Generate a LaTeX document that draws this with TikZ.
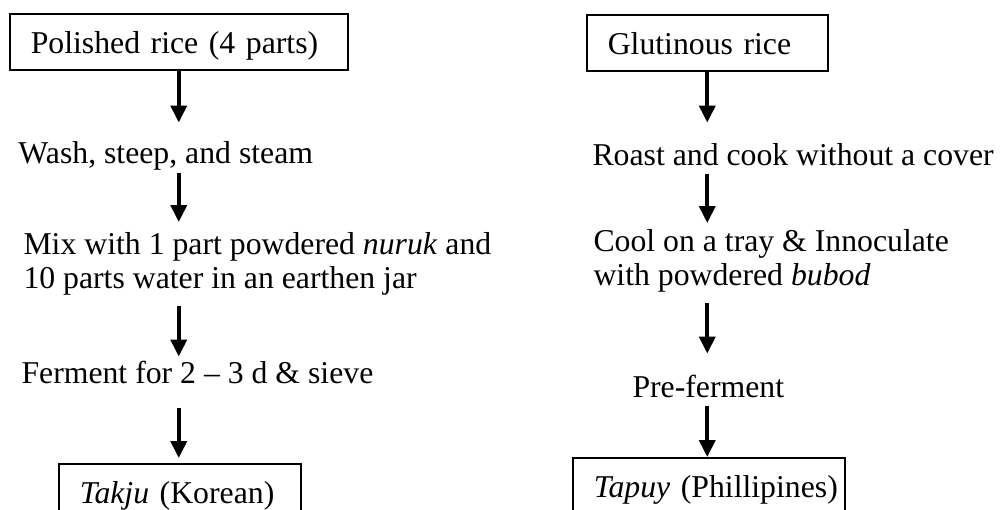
\documentclass[tikz,border=0pt]{standalone}
\usepackage{fontspec}
\setmainfont{Liberation Serif}
\usetikzlibrary{arrows.meta}

\begin{document}
\begin{tikzpicture}[x=0.4pt, y=-0.4pt,
  font=\fontsize{12.7}{13.6}\selectfont,
  stepbox/.style={draw, line width=0.6pt, anchor=north west, align=left, inner xsep=8.4pt, inner ysep=0pt, text height=16pt, text depth=6.4pt},
  steptext/.style={anchor=base west, inner sep=0pt, text height=8.8pt, text depth=3.2pt},
  steplines/.style={anchor=north west, inner sep=0pt, align=left},
  flow/.style={line width=1.5pt, -{Triangle[length=6.8pt, width=6.4pt]}}]
\useasboundingbox (0,0) rectangle (1004,509);
\clip (0,0) rectangle (1004,509);
\node[stepbox, text width=118.4pt] (polished) at (9,13) {\mbox{Polished rice (4 parts)}};
\node[steptext] (wash) at (18,163) {Wash, steep, and steam};
\node[steplines] (mix) at (23,232) {Mix with 1 part powdered \textit{nuruk} and\\10 parts water in an earthen jar};
\node[steptext] (ferment) at (21,383) {Ferment for 2 – 3 d \& sieve};
\node[stepbox, text width=80pt] (takju) at (58,463) {\mbox{\textit{Takju} (Korean)}};
\node[stepbox, text width=79.6pt] (glutinous) at (586,14) {\mbox{Glutinous rice}};
\node[steptext] (roast) at (592,165) {Roast and cook without a cover};
\node[steplines] (cool) at (593,229) {Cool on a tray \& Innoculate\\with powdered \textit{bubod}};
\node[steptext] (pre) at (632,397) {Pre-ferment};
\node[stepbox, text width=92pt] (tapuy) at (572,457) {\mbox{\textit{Tapuy} (Phillipines)}};
\draw[flow, shorten >=7.2pt] (polished.south) -- (polished.south |- wash.north);
\draw[flow, shorten <=0.4pt, shorten >=4pt] (wash.south -| polished) -- (mix.north -| polished);
\draw[flow, shorten <=4pt, shorten >=1.6pt] (mix.south -| polished) -- (ferment.north -| polished);
\draw[flow, shorten <=6.4pt, shorten >=2pt] (ferment.south -| polished) -- (takju.north -| polished);
\draw[flow, shorten >=8pt] (glutinous.south) -- (glutinous.south |- roast.north);
\draw[flow, shorten >=2.4pt] (roast.south -| glutinous) -- (cool.north -| glutinous);
\draw[flow, shorten <=4pt, shorten >=8.4pt] (cool.south -| glutinous) -- (pre.north -| glutinous);
\draw[flow] (pre.south -| glutinous) -- (tapuy.north -| glutinous);
\end{tikzpicture}
\end{document}
